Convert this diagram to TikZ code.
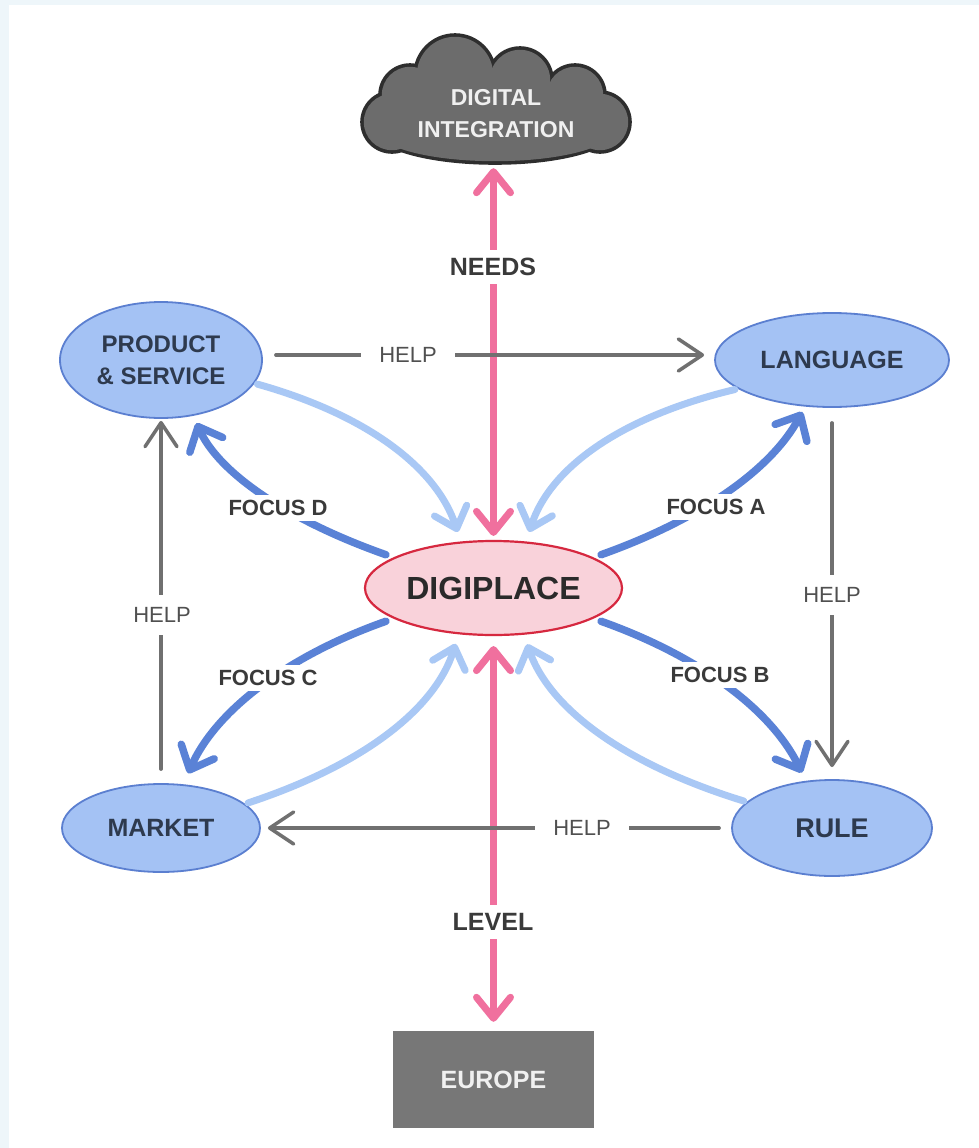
\documentclass[tikz,border=0pt]{standalone}
\usepackage{fontspec}
\setmainfont{Liberation Sans}
\usetikzlibrary{arrows.meta,shapes.geometric,calc}
\definecolor{framec}{HTML}{EEF6FA}
\definecolor{pinkc}{HTML}{F0709E}
\definecolor{darkb}{HTML}{5A82D6}
\definecolor{lightb}{HTML}{A9C8F5}
\definecolor{grayc}{HTML}{707070}
\definecolor{helptext}{HTML}{505050}
\definecolor{nodefill}{HTML}{A4C2F4}
\definecolor{nodeborder}{HTML}{5B7FD0}
\definecolor{nodetext}{HTML}{2E3A4E}
\definecolor{digifill}{HTML}{F9D2DA}
\definecolor{digiborder}{HTML}{D6283F}
\definecolor{digitext}{HTML}{2A2A2A}
\definecolor{cloudfill}{HTML}{6C6C6C}
\definecolor{cloudborder}{HTML}{2E2E2E}
\definecolor{eurofill}{HTML}{777777}
\definecolor{labtext}{HTML}{3A3A3A}
\begin{document}
\begin{tikzpicture}[x=1pt,y=-1pt,
 blob/.style={ellipse, draw=nodeborder, fill=nodefill, line width=1.8pt, inner sep=0pt, text=nodetext, align=center, font=\bfseries\fontsize{25}{32}\selectfont},
 lab/.style={fill=white, inner xsep=5pt, inner ysep=5pt, font=\bfseries\fontsize{22}{26}\selectfont, text=labtext},
 helplab/.style={fill=white, inner xsep=4pt, inner ysep=4pt, font=\fontsize{22}{26}\selectfont, text=helptext},
 pinkarr/.style={draw=pinkc, line width=7pt, line cap=round, >={Straight Barb[length=21pt,width=34pt,round]}, <->},
 focusarr/.style={draw=darkb, line width=7.5pt, line cap=round, -{Straight Barb[length=20pt,width=36pt,round]}},
 backarr/.style={draw=lightb, line width=7pt, line cap=round, -{Straight Barb[length=19pt,width=34pt,round]}},
 helparr/.style={draw=grayc, line width=3.5pt, line cap=round, -{Straight Barb[length=24pt,width=32pt,round]}},
]
\useasboundingbox (0,0) rectangle (979,1148);
\fill[framec] (0,0) rectangle (979,1148);
\fill[white] (9,5) rectangle (979,1148);

% cloud
\foreach \cx/\cy/\r in {392/122/30, 410/95/30, 455/75/40, 520/80/32, 575/95/30, 600/122/30}
  \fill[cloudborder] (\cx,\cy) circle[radius=\r+1.8];
\fill[cloudborder] (495,130) ellipse[x radius=121.8, y radius=34.8];
\foreach \cx/\cy/\r in {392/122/30, 410/95/30, 455/75/40, 520/80/32, 575/95/30, 600/122/30}
  \fill[cloudfill] (\cx,\cy) circle[radius=\r-1.8];
\fill[cloudfill] (495,130) ellipse[x radius=118.2, y radius=31.2];
\fill[cloudfill] (392,122) -- (410,95) -- (455,75) -- (520,80) -- (575,95) -- (600,122) -- (600,140) -- (392,140) -- cycle;
\node[text=white!94!black, align=center, font=\bfseries\fontsize{23}{32}\selectfont, minimum width=260pt, minimum height=96pt, inner sep=0pt] (cloud) at (496,114) {DIGITAL\\INTEGRATION};

% nodes
\node[blob, minimum width=202pt, minimum height=116pt, font=\bfseries\fontsize{24}{32}\selectfont] (prod) at (161,360) {PRODUCT\\\& SERVICE};
\node[blob, minimum width=234pt, minimum height=94pt] (lang) at (832,360) {LANGUAGE};
\node[blob, minimum width=198pt, minimum height=88pt] (market) at (161,828) {MARKET};
\node[blob, minimum width=200pt, minimum height=96pt, font=\bfseries\fontsize{27}{32}\selectfont] (rule) at (832,828) {RULE};
\node[ellipse, draw=digiborder, fill=digifill, line width=2.2pt, minimum width=257pt, minimum height=94pt, inner sep=0pt, text=digitext, font=\bfseries\fontsize{32}{36}\selectfont] (digi) at (493.5,588) {DIGIPLACE};
\node[fill=eurofill, minimum width=201pt, minimum height=97pt, inner sep=0pt, text=white!94!black, font=\bfseries\fontsize{25}{30}\selectfont] (europe) at (493.5,1079.5) {EUROPE};

% pink
\draw[pinkarr, shorten <=4pt, shorten >=6pt] (digi.north) -- (digi.north |- cloud.south);
\draw[pinkarr, shorten <=10pt, shorten >=9pt] (digi.south) -- (europe.north);

% help arrows
\draw[helparr, shorten <=13pt, shorten >=10pt] ([yshift=5pt]prod.east) -- ([yshift=5pt]lang.west);
\draw[helparr, shorten <=15pt, shorten >=12pt] (lang.south) -- (rule.north);
\draw[helparr, shorten <=12pt, shorten >=7pt] (rule.west) -- (market.east);
\draw[helparr, shorten <=14pt, shorten >=2pt] (market.north) -- (prod.south);

% light blue arrows into digiplace
\draw[backarr, shorten <=3pt, shorten >=10pt] (prod.-14) .. controls ($(prod.-14)!0.667!(424,431)$) and ($(digi.125)!0.667!(424,431)$) .. (digi.125);
\draw[backarr, shorten <=3pt, shorten >=10pt] (lang.197) .. controls ($(lang.197)!0.667!(562,431)$) and ($(digi.55)!0.667!(562,431)$) .. (digi.55);
\draw[backarr, shorten <=3pt, shorten >=10pt] (market.16) .. controls ($(market.16)!0.667!(424,745)$) and ($(digi.233)!0.667!(424,745)$) .. (digi.233);
\draw[backarr, shorten <=3pt, shorten >=10pt] (rule.163) .. controls ($(rule.163)!0.667!(562,745)$) and ($(digi.-57)!0.667!(562,745)$) .. (digi.-57);

% focus arrows
\draw[focusarr, shorten <=8pt, shorten >=6pt] (digi.17) .. controls ($(digi.17)!0.667!(755,500)$) and ($(lang.240)!0.667!(755,500)$) .. (lang.240);
\draw[focusarr, shorten <=8pt, shorten >=9pt] (digi.-17) .. controls ($(digi.-17)!0.667!(755,676)$) and ($(rule.119)!0.667!(755,676)$) .. (rule.119);
\draw[focusarr, shorten <=8pt, shorten >=12pt] (digi.197) .. controls ($(digi.197)!0.667!(231,676)$) and ($(market.63)!0.667!(231,676)$) .. (market.63);
\draw[focusarr, shorten <=8pt, shorten >=8pt] (digi.163) .. controls ($(digi.163)!0.667!(231,500)$) and ($(prod.300)!0.667!(231,500)$) .. (prod.300);

% labels
\node[lab, font=\bfseries\fontsize{25}{28}\selectfont, inner ysep=8pt] (needs) at (493,267) {NEEDS};
\node[lab, font=\bfseries\fontsize{25}{28}\selectfont, inner ysep=8pt] (level) at (493,922) {LEVEL};
\node[lab] (fa) at (716,507) {FOCUS A};
\node[lab] (fb) at (720,675) {FOCUS B};
\node[lab] (fc) at (268,678) {FOCUS C};
\node[lab] (fd) at (278,508) {FOCUS D};
\node[helplab, inner xsep=18pt] (h1) at (408,355) {HELP};
\node[helplab, inner ysep=12pt] (h2) at (832,595) {HELP};
\node[helplab, inner xsep=18pt] (h3) at (582,828) {HELP};
\node[helplab, inner ysep=12pt] (h4) at (162,615) {HELP};
\end{tikzpicture}
\end{document}
